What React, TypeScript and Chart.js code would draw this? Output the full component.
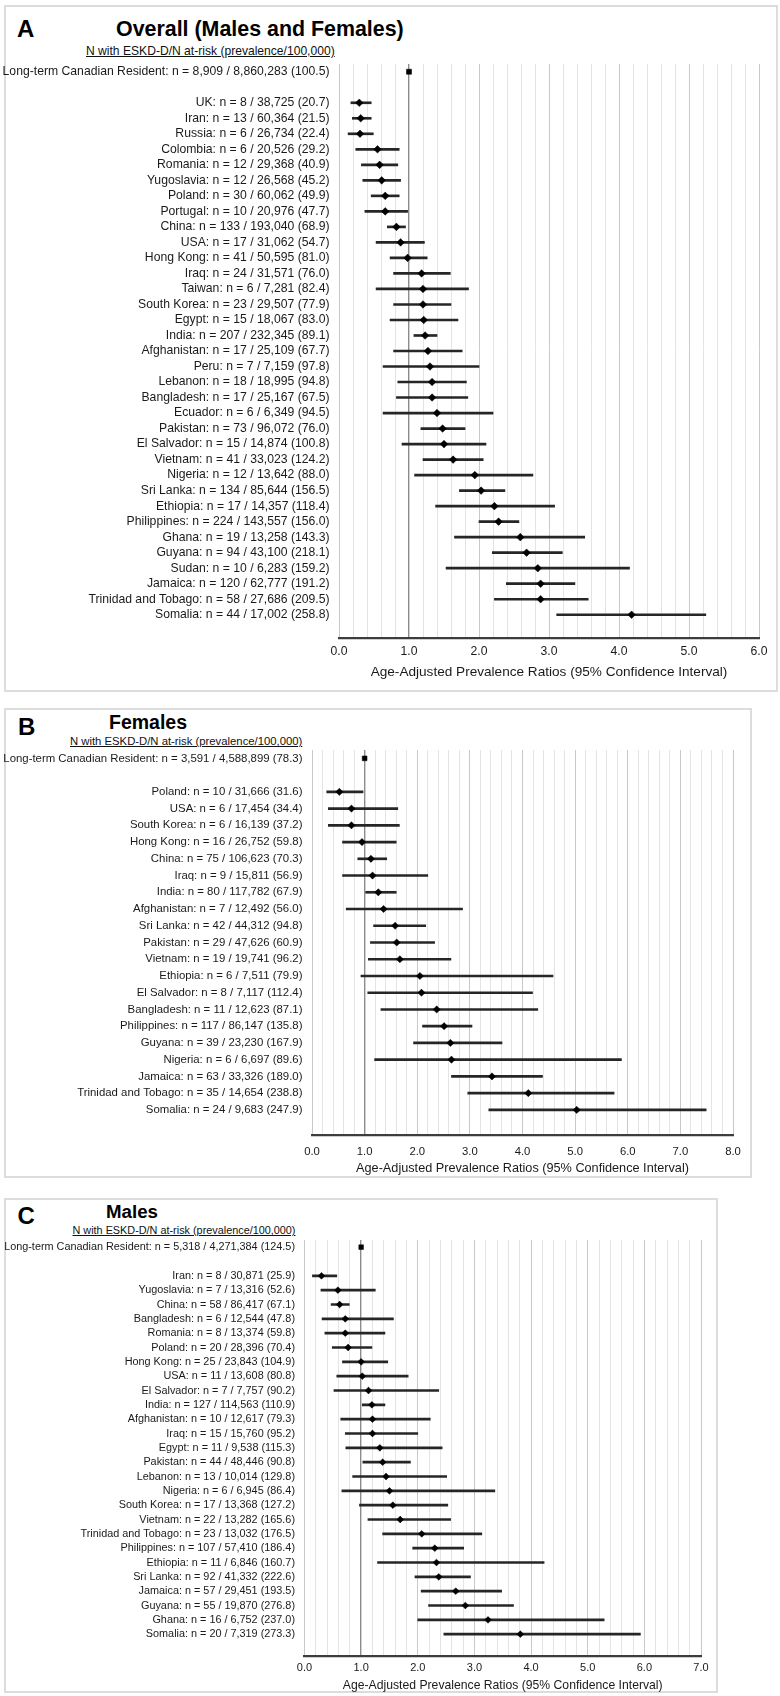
import React, { useEffect, useRef } from 'react';
import { Chart, registerables } from 'chart.js';

Chart.register(...registerables);

// ---------- Panel A: Overall ----------
const aCountries = ['UK', 'Iran', 'Russia', 'Colombia', 'Romania', 'Yugoslavia', 'Poland', 'Portugal', 'China', 'USA', 'Hong Kong', 'Iraq', 'Taiwan', 'South Korea', 'Egypt', 'India', 'Afghanistan', 'Peru', 'Lebanon', 'Bangladesh', 'Ecuador', 'Pakistan', 'El Salvador', 'Vietnam', 'Nigeria', 'Sri Lanka', 'Ethiopia', 'Philippines', 'Ghana', 'Guyana', 'Sudan', 'Jamaica', 'Trinidad and Tobago', 'Somalia'];
const aCases = [8, 13, 6, 6, 12, 12, 30, 10, 133, 17, 41, 24, 6, 23, 15, 207, 17, 7, 18, 17, 6, 73, 15, 41, 12, 134, 17, 224, 19, 94, 10, 120, 58, 44];
const aAtRisk = [38725, 60364, 26734, 20526, 29368, 26568, 60062, 20976, 193040, 31062, 50595, 31571, 7281, 29507, 18067, 232345, 25109, 7159, 18995, 25167, 6349, 96072, 14874, 33023, 13642, 85644, 14357, 143557, 13258, 43100, 6283, 62777, 27686, 17002];
const aPrev = [20.7, 21.5, 22.4, 29.2, 40.9, 45.2, 49.9, 47.7, 68.9, 54.7, 81.0, 76.0, 82.4, 77.9, 83.0, 89.1, 67.7, 97.8, 94.8, 67.5, 94.5, 76.0, 100.8, 124.2, 88.0, 156.5, 118.4, 156.0, 143.3, 218.1, 159.2, 191.2, 209.5, 258.8];
const aRatio = [0.29, 0.31, 0.30, 0.55, 0.58, 0.61, 0.66, 0.66, 0.82, 0.88, 0.98, 1.18, 1.20, 1.20, 1.21, 1.23, 1.27, 1.30, 1.33, 1.33, 1.40, 1.48, 1.50, 1.63, 1.94, 2.03, 2.22, 2.28, 2.59, 2.68, 2.84, 2.88, 2.88, 4.18];
const aLow = [0.17, 0.19, 0.13, 0.24, 0.32, 0.34, 0.46, 0.37, 0.69, 0.53, 0.73, 0.78, 0.53, 0.78, 0.73, 1.07, 0.78, 0.63, 0.84, 0.82, 0.63, 1.17, 0.90, 1.20, 1.08, 1.72, 1.38, 2.00, 1.65, 2.19, 1.53, 2.39, 2.22, 3.11];
const aHigh = [0.46, 0.46, 0.49, 0.86, 0.84, 0.88, 0.86, 0.98, 0.95, 1.22, 1.26, 1.59, 1.85, 1.60, 1.70, 1.40, 1.76, 2.00, 1.82, 1.84, 2.20, 1.80, 2.10, 2.06, 2.77, 2.37, 3.08, 2.57, 3.51, 3.19, 4.15, 3.37, 3.56, 5.24];

// ---------- Panel B: Females ----------
const bCountries = ['Poland', 'USA', 'South Korea', 'Hong Kong', 'China', 'Iraq', 'India', 'Afghanistan', 'Sri Lanka', 'Pakistan', 'Vietnam', 'Ethiopia', 'El Salvador', 'Bangladesh', 'Philippines', 'Guyana', 'Nigeria', 'Jamaica', 'Trinidad and Tobago', 'Somalia'];
const bCases = [10, 6, 6, 16, 75, 9, 80, 7, 42, 29, 19, 6, 8, 11, 117, 39, 6, 63, 35, 24];
const bAtRisk = [31666, 17454, 16139, 26752, 106623, 15811, 117782, 12492, 44312, 47626, 19741, 7511, 7117, 12623, 86147, 23230, 6697, 33326, 14654, 9683];
const bPrev = [31.6, 34.4, 37.2, 59.8, 70.3, 56.9, 67.9, 56.0, 94.8, 60.9, 96.2, 79.9, 112.4, 87.1, 135.8, 167.9, 89.6, 189.0, 238.8, 247.9];
const bRatio = [0.52, 0.75, 0.75, 0.95, 1.12, 1.15, 1.26, 1.36, 1.58, 1.61, 1.67, 2.05, 2.08, 2.37, 2.51, 2.63, 2.65, 3.42, 4.11, 5.03];
const bLow = [0.28, 0.31, 0.31, 0.58, 0.87, 0.58, 1.02, 0.65, 1.17, 1.11, 1.07, 0.93, 1.06, 1.31, 2.10, 1.93, 1.19, 2.65, 2.96, 3.36];
const bHigh = [0.97, 1.63, 1.66, 1.60, 1.42, 2.20, 1.60, 2.86, 2.16, 2.33, 2.64, 4.58, 4.19, 4.29, 3.04, 3.61, 5.88, 4.38, 5.74, 7.49];

// ---------- Panel C: Males ----------
const cCountries = ['Iran', 'Yugoslavia', 'China', 'Bangladesh', 'Romania', 'Poland', 'Hong Kong', 'USA', 'El Salvador', 'India', 'Afghanistan', 'Iraq', 'Egypt', 'Pakistan', 'Lebanon', 'Nigeria', 'South Korea', 'Vietnam', 'Trinidad and Tobago', 'Philippines', 'Ethiopia', 'Sri Lanka', 'Jamaica', 'Guyana', 'Ghana', 'Somalia'];
const cCases = [8, 7, 58, 6, 8, 20, 25, 11, 7, 127, 10, 15, 11, 44, 13, 6, 17, 22, 23, 107, 11, 92, 57, 55, 16, 20];
const cAtRisk = [30871, 13316, 86417, 12544, 13374, 28396, 23843, 13608, 7757, 114563, 12617, 15760, 9538, 48446, 10014, 6945, 13368, 13282, 13032, 57410, 6846, 41332, 29451, 19870, 6752, 7319];
const cPrev = [25.9, 52.6, 67.1, 47.8, 59.8, 70.4, 104.9, 80.8, 90.2, 110.9, 79.3, 95.2, 115.3, 90.8, 129.8, 86.4, 127.2, 165.6, 176.5, 186.4, 160.7, 222.6, 193.5, 276.8, 237.0, 273.3];
const cRatio = [0.30, 0.59, 0.62, 0.72, 0.72, 0.77, 1.00, 1.02, 1.13, 1.19, 1.20, 1.20, 1.33, 1.38, 1.44, 1.50, 1.56, 1.69, 2.07, 2.30, 2.33, 2.37, 2.67, 2.84, 3.24, 3.81];
const cLow = [0.14, 0.29, 0.47, 0.31, 0.36, 0.49, 0.67, 0.57, 0.52, 1.02, 0.64, 0.72, 0.73, 1.03, 0.85, 0.66, 0.97, 1.12, 1.38, 1.91, 1.29, 1.95, 2.06, 2.19, 2.00, 2.46];
const cHigh = [0.57, 1.25, 0.79, 1.57, 1.42, 1.19, 1.47, 1.83, 2.37, 1.42, 2.22, 2.00, 2.43, 1.87, 2.51, 3.36, 2.53, 2.58, 3.13, 2.81, 4.23, 2.93, 3.48, 3.69, 5.29, 5.93];

// ---------- Reference group (A, B, C) ----------
const refCases = [8909, 3591, 5318];
const refAtRisk = [8860283, 4588899, 4271384];
const refPrev = [100.5, 78.3, 124.5];
const refRatio = 1.0;

// ---------- Axis / text ----------
const xMaxValues = [6, 8, 7];
const xStep = 0.2;
const panelLetters = ['A', 'B', 'C'];
const panelTitles = ['Overall (Males and Females)', 'Females', 'Males'];
const headerText = 'N with ESKD-D/N at-risk (prevalence/100,000)';
const axisTitle = 'Age-Adjusted Prevalence Ratios (95% Confidence Interval)';
const refName = 'Long-term Canadian Resident';

const FONT = "'Liberation Sans', Arial, Helvetica, sans-serif";
const CANVAS_W = 780;

const fmt = (v: number) => v.toLocaleString('en-US');
const rowLabel = (name: string, n: number, N: number, p: number) => `${name}: n = ${fmt(n)} / ${fmt(N)} (${p.toFixed(1)})`;
const isInt = (v: number) => Math.abs(v - Math.round(v)) < 1e-6;

type Layout = {
  box: { l: number; t: number; r: number; b: number };
  plot: { l: number; r: number; t: number; b: number };
  labelSize: number; labelPad: number;
  tickSize: number; tickPad: number;
  axisTitleSize: number; axisTitleY: number;
  letterX: number; letterY: number; letterSize: number;
  titleX: number; titleY: number; titleSize: number;
  headerX: number; headerY: number; headerSize: number;
  markerR: number; squareR: number;
};

const layouts: Layout[] = [
  {
    box: { l: 4, t: 5, r: 778, b: 692 },
    plot: { l: 339, r: 759, t: 64, b: 638 },
    labelSize: 12.2, labelPad: 9.5, tickSize: 12.2, tickPad: 6.4,
    axisTitleSize: 13.6, axisTitleY: 671.7,
    letterX: 17, letterY: 28.5, letterSize: 24,
    titleX: 116, titleY: 29, titleSize: 21.4,
    headerX: 86, headerY: 50.5, headerSize: 12.1,
    markerR: 3.8, squareR: 3.6,
  },
  {
    box: { l: 4, t: 708, r: 752, b: 1178 },
    plot: { l: 312, r: 733, t: 750, b: 1135 },
    labelSize: 11.4, labelPad: 9.5, tickSize: 11.3, tickPad: 9.9,
    axisTitleSize: 12.7, axisTitleY: 1167.5,
    letterX: 18, letterY: 726.7, letterSize: 24,
    titleX: 109, titleY: 722.7, titleSize: 19.5,
    headerX: 70, headerY: 742, headerSize: 11.3,
    markerR: 3.6, squareR: 3.4,
  },
  {
    box: { l: 4, t: 1198, r: 718, b: 1693 },
    plot: { l: 304.5, r: 701, t: 1240, b: 1655.7 },
    labelSize: 10.85, labelPad: 9.5, tickSize: 11, tickPad: 5.4,
    axisTitleSize: 12.2, axisTitleY: 1685,
    letterX: 17.5, letterY: 1215.8, letterSize: 24,
    titleX: 106, titleY: 1212.5, titleSize: 18.7,
    headerX: 72.5, headerY: 1230.5, headerSize: 10.85,
    markerR: 3.4, squareR: 3.3,
  },
];

type PanelData = {
  countries: string[]; cases: number[]; atRisk: number[]; prev: number[];
  ratio: number[]; low: number[]; high: number[];
};

const panelData: PanelData[] = [
  { countries: aCountries, cases: aCases, atRisk: aAtRisk, prev: aPrev, ratio: aRatio, low: aLow, high: aHigh },
  { countries: bCountries, cases: bCases, atRisk: bAtRisk, prev: bPrev, ratio: bRatio, low: bLow, high: bHigh },
  { countries: cCountries, cases: cCases, atRisk: cAtRisk, prev: cPrev, ratio: cRatio, low: cLow, high: cHigh },
];

function Panel({ idx }: { idx: number }) {
  const ref = useRef<HTMLCanvasElement | null>(null);
  const L = layouts[idx];
  const D = panelData[idx];
  const axisLH = L.axisTitleSize * 1.2;
  const canvasH = Math.ceil(L.axisTitleY + axisLH / 2 + 2 - L.box.t);

  useEffect(() => {
    if (!ref.current) return;
    const labels = [
      rowLabel(refName, refCases[idx], refAtRisk[idx], refPrev[idx]),
      '',
      ...D.countries.map((c, i) => rowLabel(c, D.cases[i], D.atRisk[i], D.prev[i])),
      '',
    ];
    const ci: any[] = [null, null, ...D.countries.map((_, i) => [D.low[i], D.high[i]]), null];
    const pts: any[] = [null, null, ...D.ratio, null];
    const refPts: any[] = labels.map((_, i) => (i === 0 ? refRatio : null));
    const padBottom = 2;
    const axisH = canvasH - padBottom - (L.plot.b - L.box.t);

    const chart = new Chart(ref.current, {
      type: 'bar',
      data: {
        labels,
        datasets: [
          {
            type: 'bar',
            data: ci,
            backgroundColor: '#262626',
            borderWidth: 0,
            barThickness: 2,
            indexAxis: 'y',
            order: 3,
          } as any,
          {
            type: 'line',
            data: pts,
            showLine: false,
            indexAxis: 'y',
            pointStyle: 'rectRot',
            pointRadius: L.markerR,
            pointBackgroundColor: '#000',
            pointBorderColor: '#000',
            pointBorderWidth: 0.5,
            order: 1,
          } as any,
          {
            type: 'line',
            data: refPts,
            showLine: false,
            indexAxis: 'y',
            pointStyle: 'rect',
            pointRadius: L.squareR,
            pointBackgroundColor: '#000',
            pointBorderColor: '#000',
            pointBorderWidth: 0.5,
            order: 2,
          } as any,
        ],
      },
      options: {
        indexAxis: 'y',
        animation: false,
        responsive: false,
        events: [],
        layout: {
          padding: { left: 0, right: CANVAS_W - L.plot.r, top: L.plot.t - L.box.t, bottom: padBottom },
        },
        plugins: { legend: { display: false }, tooltip: { enabled: false } },
        scales: {
          x: {
            type: 'linear',
            position: 'bottom',
            min: 0,
            max: xMaxValues[idx],
            afterFit: (s: any) => { s.height = axisH; },
            ticks: {
              stepSize: xStep,
              autoSkip: false,
              maxRotation: 0,
              minRotation: 0,
              padding: L.tickPad,
              color: '#1a1a1a',
              font: { family: FONT, size: L.tickSize },
              callback: (v: any) => (isInt(Number(v)) ? Number(v).toFixed(1) : ''),
            },
            grid: {
              drawTicks: false,
              color: (ctx: any) => {
                const v = ctx.tick ? ctx.tick.value : 0;
                if (Math.abs(v - 1) < 1e-6) return '#8c8c8c';
                if (isInt(v)) return '#c9c9c9';
                return '#e4e4e4';
              },
              lineWidth: (ctx: any) => {
                const v = ctx.tick ? ctx.tick.value : 0;
                return Math.abs(v - 1) < 1e-6 ? 1.4 : 1;
              },
            },
            border: { display: true, color: '#3d3d3d', width: 2.2 },
            title: {
              display: true,
              text: axisTitle,
              color: '#1a1a1a',
              font: { family: FONT, size: L.axisTitleSize },
              padding: 0,
            },
          },
          y: {
            type: 'category',
            offset: true,
            afterFit: (s: any) => { s.width = L.plot.l; },
            grid: { display: false, drawTicks: false },
            border: { display: false },
            ticks: {
              autoSkip: false,
              padding: L.labelPad,
              color: '#1a1a1a',
              font: { family: FONT, size: L.labelSize },
            },
          },
        },
      } as any,
    });
    return () => chart.destroy();
  }, [idx]);

  const capTop = (cy: number, fs: number) => cy - 0.49 * fs;

  return (
    <>
      <div
        style={{
          position: 'absolute',
          left: L.box.l,
          top: L.box.t,
          width: L.box.r - L.box.l,
          height: L.box.b - L.box.t,
          border: '2px solid #dcdcdc',
          boxSizing: 'border-box',
          background: '#fff',
        }}
      />
      <div style={{ position: 'absolute', left: L.letterX, top: capTop(L.letterY, L.letterSize), fontFamily: FONT, fontWeight: 'bold', fontSize: L.letterSize, lineHeight: 1, color: '#000', whiteSpace: 'nowrap' }}>
        {panelLetters[idx]}
      </div>
      <div style={{ position: 'absolute', left: L.titleX, top: capTop(L.titleY, L.titleSize), fontFamily: FONT, fontWeight: 'bold', fontSize: L.titleSize, lineHeight: 1, color: '#000', whiteSpace: 'nowrap' }}>
        {panelTitles[idx]}
      </div>
      <div style={{ position: 'absolute', left: L.headerX, top: capTop(L.headerY, L.headerSize), fontFamily: FONT, fontSize: L.headerSize, lineHeight: 1, color: '#111', textDecoration: 'underline', whiteSpace: 'nowrap' }}>
        {headerText}
      </div>
      <canvas
        ref={ref}
        width={CANVAS_W}
        height={canvasH}
        style={{ position: 'absolute', left: 0, top: L.box.t, width: CANVAS_W, height: canvasH }}
      />
    </>
  );
}

export default function App() {
  return (
    <div style={{ position: 'absolute', left: 0, top: 0, width: 780, height: 1696, background: '#fff', overflow: 'hidden' }}>
      <Panel idx={0} />
      <Panel idx={1} />
      <Panel idx={2} />
    </div>
  );
}
